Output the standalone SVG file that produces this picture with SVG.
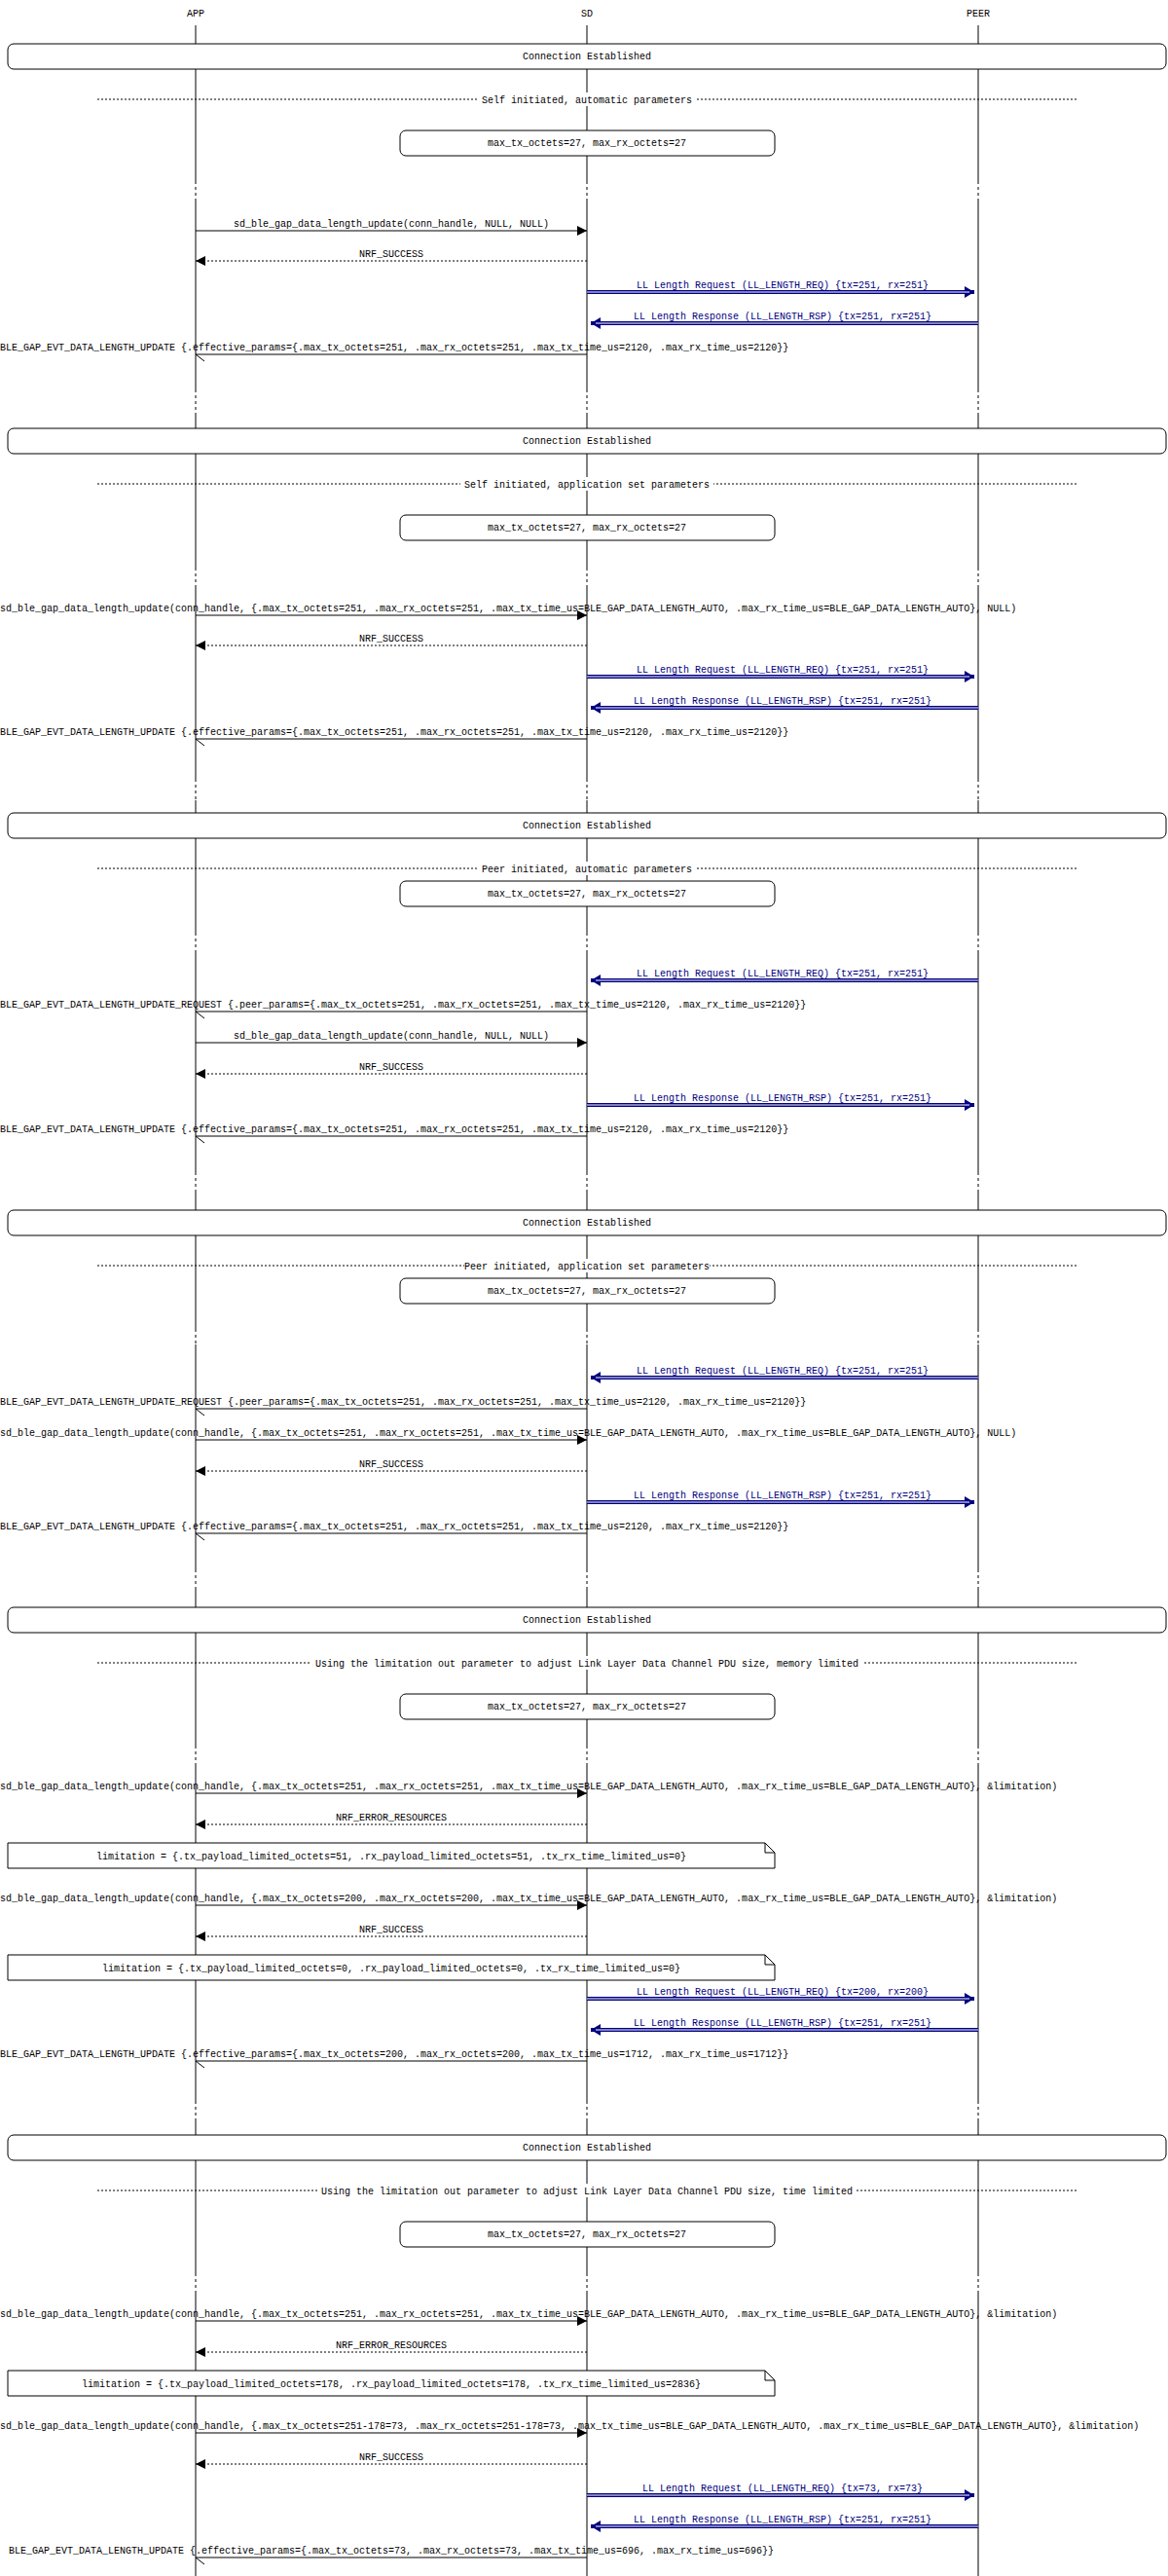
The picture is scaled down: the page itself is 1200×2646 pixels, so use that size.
<svg xmlns="http://www.w3.org/2000/svg" width="1200" height="2646" viewBox="0 0 1200 2646">
<style>
text{font-family:"Liberation Mono","DejaVu Sans Mono",monospace;font-size:10px;text-anchor:middle;fill:#000}
text.l{text-anchor:start}
.ll{fill:#000080}
.life{stroke:#000;stroke-width:1}
.gapd{stroke:#000;stroke-width:1;stroke-dasharray:3,3}
.box{fill:#fff;stroke:#000;stroke-width:1}
.div{stroke:#000;stroke-width:1;stroke-dasharray:2,2}
.call{stroke:#000;stroke-width:1;fill:none}
.ret{stroke:#000;stroke-width:1;stroke-dasharray:2,2;fill:none}
.llo{stroke:#000080;stroke-width:4;fill:none}
.lli{stroke:#fff;stroke-width:1.2;fill:none}
.bg{fill:#fff}
</style>
<defs>
<marker id="ah" markerUnits="userSpaceOnUse" markerWidth="10" markerHeight="10" refX="10" refY="5" orient="auto"><path d="M0,0L10,5L0,10z" fill="#000"/></marker>
<marker id="ahb" markerUnits="userSpaceOnUse" markerWidth="10" markerHeight="12" refX="10" refY="6" orient="auto"><path d="M0,0L10,6L0,12z" fill="#000080"/></marker>
</defs>
<g id="lifelines">
<text x="201" y="17">APP</text><text x="603" y="17">SD</text><text x="1005" y="17">PEER</text>
<line class="life" x1="201" y1="26" x2="201" y2="2646"/>
<line class="life" x1="603" y1="26" x2="603" y2="2646"/>
<line class="life" x1="1005" y1="26" x2="1005" y2="2646"/>
<g fill="#fff">
<rect x="195" y="186" width="815" height="20"/><rect x="195" y="400" width="815" height="25"/>
<rect x="195" y="583" width="815" height="18"/><rect x="195" y="800" width="815" height="22"/>
<rect x="195" y="958" width="815" height="18"/><rect x="195" y="1204" width="815" height="18"/>
<rect x="195" y="1365" width="815" height="16"/><rect x="195" y="1612" width="815" height="20"/>
<rect x="195" y="1793" width="815" height="18"/><rect x="195" y="2158" width="815" height="20"/>
<rect x="195" y="2335" width="815" height="18"/>
</g>
<path class="gapd" d="M201,186V206M603,186V206M1005,186V206M201,400V425M603,400V425M1005,400V425M201,583V601M603,583V601M1005,583V601M201,800V822M603,800V822M1005,800V822M201,958V976M603,958V976M1005,958V976M201,1204V1222M603,1204V1222M1005,1204V1222M201,1365V1381M603,1365V1381M1005,1365V1381M201,1612V1632M603,1612V1632M1005,1612V1632M201,1793V1811M603,1793V1811M1005,1793V1811M201,2158V2178M603,2158V2178M1005,2158V2178M201,2335V2353M603,2335V2353M1005,2335V2353"/>
</g>
<g id="sections">
<g id="s1">
<rect class="box" x="8" y="45" width="1190" height="26" rx="6"/><text x="603" y="61">Connection Established</text>
<line class="div" x1="100" y1="102" x2="1108" y2="102"/><rect class="bg" x="491" y="95" width="224" height="14"/><text x="603" y="106">Self initiated, automatic parameters</text>
<rect class="box" x="411" y="134" width="385" height="26" rx="6"/><text x="603" y="150">max_tx_octets=27, max_rx_octets=27</text>
</g>
<g id="s2">
<rect class="box" x="8" y="440" width="1190" height="26" rx="6"/><text x="603" y="456">Connection Established</text>
<line class="div" x1="100" y1="497" x2="1108" y2="497"/><rect class="bg" x="473" y="490" width="260" height="14"/><text x="603" y="501">Self initiated, application set parameters</text>
<rect class="box" x="411" y="529" width="385" height="26" rx="6"/><text x="603" y="545">max_tx_octets=27, max_rx_octets=27</text>
</g>
<g id="s3">
<rect class="box" x="8" y="835" width="1190" height="26" rx="6"/><text x="603" y="851">Connection Established</text>
<line class="div" x1="100" y1="892" x2="1108" y2="892"/><rect class="bg" x="491" y="885" width="224" height="14"/><text x="603" y="896">Peer initiated, automatic parameters</text>
<rect class="box" x="411" y="905" width="385" height="26" rx="6"/><text x="603" y="921">max_tx_octets=27, max_rx_octets=27</text>
</g>
<g id="s4">
<rect class="box" x="8" y="1243" width="1190" height="26" rx="6"/><text x="603" y="1259">Connection Established</text>
<line class="div" x1="100" y1="1300" x2="1108" y2="1300"/><rect class="bg" x="477" y="1293" width="252" height="14"/><text x="603" y="1304">Peer initiated, application set parameters</text>
<rect class="box" x="411" y="1313" width="385" height="26" rx="6"/><text x="603" y="1329">max_tx_octets=27, max_rx_octets=27</text>
</g>
<g id="s5">
<rect class="box" x="8" y="1651" width="1190" height="26" rx="6"/><text x="603" y="1667">Connection Established</text>
<line class="div" x1="100" y1="1708" x2="1108" y2="1708"/><rect class="bg" x="320" y="1701" width="566" height="14"/><text x="603" y="1712">Using the limitation out parameter to adjust Link Layer Data Channel PDU size, memory limited</text>
<rect class="box" x="411" y="1740" width="385" height="26" rx="6"/><text x="603" y="1756">max_tx_octets=27, max_rx_octets=27</text>
</g>
<g id="s6">
<rect class="box" x="8" y="2193" width="1190" height="26" rx="6"/><text x="603" y="2209">Connection Established</text>
<line class="div" x1="100" y1="2250" x2="1108" y2="2250"/><rect class="bg" x="326" y="2243" width="554" height="14"/><text x="603" y="2254">Using the limitation out parameter to adjust Link Layer Data Channel PDU size, time limited</text>
<rect class="box" x="411" y="2282" width="385" height="26" rx="6"/><text x="603" y="2298">max_tx_octets=27, max_rx_octets=27</text>
</g>
<g id="limits">
<path class="box" d="M8,1893H786L796,1903V1919H8Z"/><path class="call" d="M786,1893V1903H796"/><text x="402" y="1910">limitation = {.tx_payload_limited_octets=51, .rx_payload_limited_octets=51, .tx_rx_time_limited_us=0}</text>
<path class="box" d="M8,2008H786L796,2018V2034H8Z"/><path class="call" d="M786,2008V2018H796"/><text x="402" y="2025">limitation = {.tx_payload_limited_octets=0, .rx_payload_limited_octets=0, .tx_rx_time_limited_us=0}</text>
<path class="box" d="M8,2435H786L796,2445V2461H8Z"/><path class="call" d="M786,2435V2445H796"/><text x="402" y="2452">limitation = {.tx_payload_limited_octets=178, .rx_payload_limited_octets=178, .tx_rx_time_limited_us=2836}</text>
</g>
</g>
<g id="connectors">
<!-- S1 -->
<line class="call" x1="201" y1="237" x2="603" y2="237" marker-end="url(#ah)"/><text x="402" y="233">sd_ble_gap_data_length_update(conn_handle, NULL, NULL)</text>
<line class="ret" x1="603" y1="268" x2="201" y2="268" marker-end="url(#ah)"/><text x="402" y="264">NRF_SUCCESS</text>
<line class="llo" x1="603" y1="300" x2="1001" y2="300" marker-end="url(#ahb)"/><line class="lli" x1="603" y1="300" x2="996" y2="300"/><text class="ll" x="804" y="296">LL Length Request (LL_LENGTH_REQ) {tx=251, rx=251}</text>
<line class="llo" x1="1005" y1="332" x2="607" y2="332" marker-end="url(#ahb)"/><line class="lli" x1="1005" y1="332" x2="612" y2="332"/><text class="ll" x="804" y="328">LL Length Response (LL_LENGTH_RSP) {tx=251, rx=251}</text>
<path class="call" d="M603,364H201L210,371"/><text class="l" x="0" y="360">BLE_GAP_EVT_DATA_LENGTH_UPDATE {.effective_params={.max_tx_octets=251, .max_rx_octets=251, .max_tx_time_us=2120, .max_rx_time_us=2120}}</text>
<!-- S2 -->
<line class="call" x1="201" y1="632" x2="603" y2="632" marker-end="url(#ah)"/><text class="l" x="0" y="628">sd_ble_gap_data_length_update(conn_handle, {.max_tx_octets=251, .max_rx_octets=251, .max_tx_time_us=BLE_GAP_DATA_LENGTH_AUTO, .max_rx_time_us=BLE_GAP_DATA_LENGTH_AUTO}, NULL)</text>
<line class="ret" x1="603" y1="663" x2="201" y2="663" marker-end="url(#ah)"/><text x="402" y="659">NRF_SUCCESS</text>
<line class="llo" x1="603" y1="695" x2="1001" y2="695" marker-end="url(#ahb)"/><line class="lli" x1="603" y1="695" x2="996" y2="695"/><text class="ll" x="804" y="691">LL Length Request (LL_LENGTH_REQ) {tx=251, rx=251}</text>
<line class="llo" x1="1005" y1="727" x2="607" y2="727" marker-end="url(#ahb)"/><line class="lli" x1="1005" y1="727" x2="612" y2="727"/><text class="ll" x="804" y="723">LL Length Response (LL_LENGTH_RSP) {tx=251, rx=251}</text>
<path class="call" d="M603,759H201L210,766"/><text class="l" x="0" y="755">BLE_GAP_EVT_DATA_LENGTH_UPDATE {.effective_params={.max_tx_octets=251, .max_rx_octets=251, .max_tx_time_us=2120, .max_rx_time_us=2120}}</text>
<!-- S3 -->
<line class="llo" x1="1005" y1="1007" x2="607" y2="1007" marker-end="url(#ahb)"/><line class="lli" x1="1005" y1="1007" x2="612" y2="1007"/><text class="ll" x="804" y="1003">LL Length Request (LL_LENGTH_REQ) {tx=251, rx=251}</text>
<path class="call" d="M603,1039H201L210,1046"/><text class="l" x="0" y="1035">BLE_GAP_EVT_DATA_LENGTH_UPDATE_REQUEST {.peer_params={.max_tx_octets=251, .max_rx_octets=251, .max_tx_time_us=2120, .max_rx_time_us=2120}}</text>
<line class="call" x1="201" y1="1071" x2="603" y2="1071" marker-end="url(#ah)"/><text x="402" y="1067">sd_ble_gap_data_length_update(conn_handle, NULL, NULL)</text>
<line class="ret" x1="603" y1="1103" x2="201" y2="1103" marker-end="url(#ah)"/><text x="402" y="1099">NRF_SUCCESS</text>
<line class="llo" x1="603" y1="1135" x2="1001" y2="1135" marker-end="url(#ahb)"/><line class="lli" x1="603" y1="1135" x2="996" y2="1135"/><text class="ll" x="804" y="1131">LL Length Response (LL_LENGTH_RSP) {tx=251, rx=251}</text>
<path class="call" d="M603,1167H201L210,1174"/><text class="l" x="0" y="1163">BLE_GAP_EVT_DATA_LENGTH_UPDATE {.effective_params={.max_tx_octets=251, .max_rx_octets=251, .max_tx_time_us=2120, .max_rx_time_us=2120}}</text>
<!-- S4 -->
<line class="llo" x1="1005" y1="1415" x2="607" y2="1415" marker-end="url(#ahb)"/><line class="lli" x1="1005" y1="1415" x2="612" y2="1415"/><text class="ll" x="804" y="1411">LL Length Request (LL_LENGTH_REQ) {tx=251, rx=251}</text>
<path class="call" d="M603,1447H201L210,1454"/><text class="l" x="0" y="1443">BLE_GAP_EVT_DATA_LENGTH_UPDATE_REQUEST {.peer_params={.max_tx_octets=251, .max_rx_octets=251, .max_tx_time_us=2120, .max_rx_time_us=2120}}</text>
<line class="call" x1="201" y1="1479" x2="603" y2="1479" marker-end="url(#ah)"/><text class="l" x="0" y="1475">sd_ble_gap_data_length_update(conn_handle, {.max_tx_octets=251, .max_rx_octets=251, .max_tx_time_us=BLE_GAP_DATA_LENGTH_AUTO, .max_rx_time_us=BLE_GAP_DATA_LENGTH_AUTO}, NULL)</text>
<line class="ret" x1="603" y1="1511" x2="201" y2="1511" marker-end="url(#ah)"/><text x="402" y="1507">NRF_SUCCESS</text>
<line class="llo" x1="603" y1="1543" x2="1001" y2="1543" marker-end="url(#ahb)"/><line class="lli" x1="603" y1="1543" x2="996" y2="1543"/><text class="ll" x="804" y="1539">LL Length Response (LL_LENGTH_RSP) {tx=251, rx=251}</text>
<path class="call" d="M603,1575H201L210,1582"/><text class="l" x="0" y="1571">BLE_GAP_EVT_DATA_LENGTH_UPDATE {.effective_params={.max_tx_octets=251, .max_rx_octets=251, .max_tx_time_us=2120, .max_rx_time_us=2120}}</text>
<!-- S5 -->
<line class="call" x1="201" y1="1842" x2="603" y2="1842" marker-end="url(#ah)"/><text class="l" x="0" y="1838">sd_ble_gap_data_length_update(conn_handle, {.max_tx_octets=251, .max_rx_octets=251, .max_tx_time_us=BLE_GAP_DATA_LENGTH_AUTO, .max_rx_time_us=BLE_GAP_DATA_LENGTH_AUTO}, &amp;limitation)</text>
<line class="ret" x1="603" y1="1874" x2="201" y2="1874" marker-end="url(#ah)"/><text x="402" y="1870">NRF_ERROR_RESOURCES</text>
<line class="call" x1="201" y1="1957" x2="603" y2="1957" marker-end="url(#ah)"/><text class="l" x="0" y="1953">sd_ble_gap_data_length_update(conn_handle, {.max_tx_octets=200, .max_rx_octets=200, .max_tx_time_us=BLE_GAP_DATA_LENGTH_AUTO, .max_rx_time_us=BLE_GAP_DATA_LENGTH_AUTO}, &amp;limitation)</text>
<line class="ret" x1="603" y1="1989" x2="201" y2="1989" marker-end="url(#ah)"/><text x="402" y="1985">NRF_SUCCESS</text>
<line class="llo" x1="603" y1="2053" x2="1001" y2="2053" marker-end="url(#ahb)"/><line class="lli" x1="603" y1="2053" x2="996" y2="2053"/><text class="ll" x="804" y="2049">LL Length Request (LL_LENGTH_REQ) {tx=200, rx=200}</text>
<line class="llo" x1="1005" y1="2085" x2="607" y2="2085" marker-end="url(#ahb)"/><line class="lli" x1="1005" y1="2085" x2="612" y2="2085"/><text class="ll" x="804" y="2081">LL Length Response (LL_LENGTH_RSP) {tx=251, rx=251}</text>
<path class="call" d="M603,2117H201L210,2124"/><text class="l" x="0" y="2113">BLE_GAP_EVT_DATA_LENGTH_UPDATE {.effective_params={.max_tx_octets=200, .max_rx_octets=200, .max_tx_time_us=1712, .max_rx_time_us=1712}}</text>
<!-- S6 -->
<line class="call" x1="201" y1="2384" x2="603" y2="2384" marker-end="url(#ah)"/><text class="l" x="0" y="2380">sd_ble_gap_data_length_update(conn_handle, {.max_tx_octets=251, .max_rx_octets=251, .max_tx_time_us=BLE_GAP_DATA_LENGTH_AUTO, .max_rx_time_us=BLE_GAP_DATA_LENGTH_AUTO}, &amp;limitation)</text>
<line class="ret" x1="603" y1="2416" x2="201" y2="2416" marker-end="url(#ah)"/><text x="402" y="2412">NRF_ERROR_RESOURCES</text>
<line class="call" x1="201" y1="2499" x2="603" y2="2499" marker-end="url(#ah)"/><text class="l" x="0" y="2495">sd_ble_gap_data_length_update(conn_handle, {.max_tx_octets=251-178=73, .max_rx_octets=251-178=73, .max_tx_time_us=BLE_GAP_DATA_LENGTH_AUTO, .max_rx_time_us=BLE_GAP_DATA_LENGTH_AUTO}, &amp;limitation)</text>
<line class="ret" x1="603" y1="2531" x2="201" y2="2531" marker-end="url(#ah)"/><text x="402" y="2527">NRF_SUCCESS</text>
<line class="llo" x1="603" y1="2563" x2="1001" y2="2563" marker-end="url(#ahb)"/><line class="lli" x1="603" y1="2563" x2="996" y2="2563"/><text class="ll" x="804" y="2559">LL Length Request (LL_LENGTH_REQ) {tx=73, rx=73}</text>
<line class="llo" x1="1005" y1="2595" x2="607" y2="2595" marker-end="url(#ahb)"/><line class="lli" x1="1005" y1="2595" x2="612" y2="2595"/><text class="ll" x="804" y="2591">LL Length Response (LL_LENGTH_RSP) {tx=251, rx=251}</text>
<path class="call" d="M603,2627H201L210,2634"/><text x="402" y="2623">BLE_GAP_EVT_DATA_LENGTH_UPDATE {.effective_params={.max_tx_octets=73, .max_rx_octets=73, .max_tx_time_us=696, .max_rx_time_us=696}}</text>
</g>
</svg>
